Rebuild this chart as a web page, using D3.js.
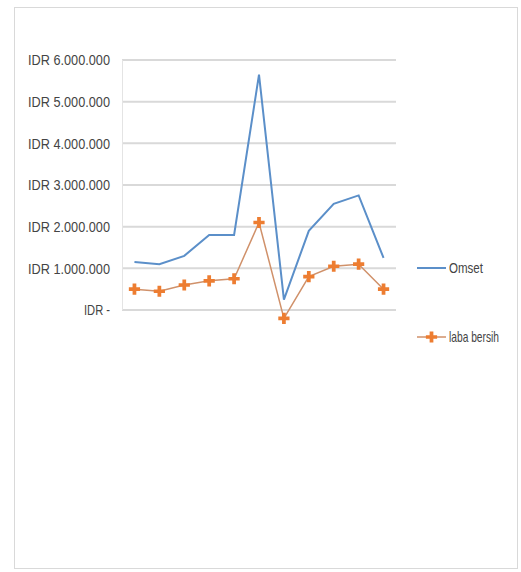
<!DOCTYPE html>
<html>
<head>
<meta charset="utf-8">
<script src="https://cdn.jsdelivr.net/npm/d3@7"></script>
<style>
  body { margin: 0; background: #fff; }
  svg text { font-family: "Liberation Sans", Arial, sans-serif; fill: #444; }
</style>
</head>
<body>
<svg id="chart" width="521" height="572"></svg>
<script>
// Data (values in IDR)
const periods = ["1", "2", "3", "4", "5", "6", "7", "8", "9", "10", "11"];
const omset = [1150000, 1100000, 1300000, 1800000, 1800000, 5650000, 250000, 1900000, 2550000, 2750000, 1250000];
const labaBersih = [500000, 450000, 600000, 700000, 750000, 2100000, -200000, 800000, 1050000, 1100000, 500000];
const yTicks = [0, 1000000, 2000000, 3000000, 4000000, 5000000, 6000000];
const seriesNames = ["Omset", "laba bersih"];

const svg = d3.select("#chart");

// chart border
svg.append("rect")
  .attr("x", 14.5).attr("y", 7.5)
  .attr("width", 503).attr("height", 561)
  .attr("fill", "none")
  .attr("stroke", "#d9d9d9");

let x = d3.scaleBand().domain(periods).range([122, 396]);
let y = d3.scaleLinear().domain([0, 6000000]).range([310, 60]);
const cx = d => x(d) + x.bandwidth() / 2;

// format like Excel accounting: "IDR 6.000.000", "IDR -"
const fmt = v => v === 0 ? "IDR -" : "IDR " + d3.format(",")(v).replace(/,/g, ".");

// gridlines
svg.append("g").selectAll("line")
  .data(yTicks)
  .join("line")
    .attr("x1", 122).attr("x2", 396)
    .attr("y1", d => y(d)).attr("y2", d => y(d))
    .attr("stroke", "#d9d9d9")
    .attr("stroke-width", 2);

// faint value axis line
svg.append("line")
  .attr("x1", 122.5).attr("x2", 122.5)
  .attr("y1", y(6000000)).attr("y2", y(0))
  .attr("stroke", "#e4e4e4");

// tick labels
svg.append("g").selectAll("text")
  .data(yTicks)
  .join("text")
    .attr("x", 110)
    .attr("y", d => y(d))
    .attr("dy", "0.35em")
    .attr("text-anchor", "end")
    .attr("font-size", 15)
    .attr("textLength", d => d === 0 ? 26 : 82)
    .attr("lengthAdjust", "spacingAndGlyphs")
    .text(fmt);

let line = d3.line()
  .x((d, i) => cx(periods[i]))
  .y(d => y(d));

// Omset (blue)
svg.append("path")
  .datum(omset)
  .attr("fill", "none")
  .attr("stroke", "#5b8fc9")
  .attr("stroke-width", 2)
  .attr("d", line);

// laba bersih (orange) with cross markers
svg.append("path")
  .datum(labaBersih)
  .attr("fill", "none")
  .attr("stroke", "#d0916a")
  .attr("stroke-width", 1.5)
  .attr("d", line);

let cross = d3.symbol().type(d3.symbolCross).size(70);
svg.append("g").selectAll("path")
  .data(labaBersih)
  .join("path")
    .attr("transform", (d, i) => `translate(${cx(periods[i])}, ${y(d)})`)
    .attr("d", cross)
    .attr("fill", "#ed7d31");

// legend
let legend = svg.append("g");
legend.append("line")
  .attr("x1", 417).attr("x2", 446)
  .attr("y1", 268).attr("y2", 268)
  .attr("stroke", "#5b8fc9").attr("stroke-width", 2);
legend.append("line")
  .attr("x1", 417).attr("x2", 446)
  .attr("y1", 337).attr("y2", 337)
  .attr("stroke", "#d0916a").attr("stroke-width", 1.5);
legend.append("path")
  .attr("transform", "translate(431.5, 337)")
  .attr("d", cross)
  .attr("fill", "#ed7d31");
legend.selectAll("text")
  .data(seriesNames)
  .join("text")
    .attr("x", 449)
    .attr("y", (d, i) => 268 + i * 69)
    .attr("dy", "0.35em")
    .attr("font-size", 15)
    .attr("textLength", (d, i) => i === 0 ? 34 : 50)
    .attr("lengthAdjust", "spacingAndGlyphs")
    .text(d => d);
</script>
</body>
</html>
